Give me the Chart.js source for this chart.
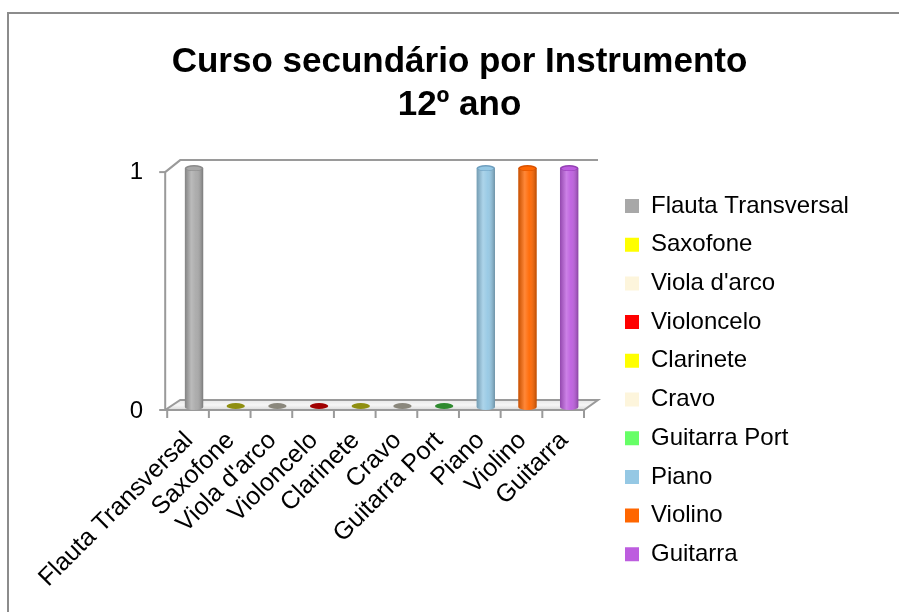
<!DOCTYPE html>
<html>
<head>
<meta charset="utf-8">
<script src="https://cdn.jsdelivr.net/npm/chart.js@4/dist/chart.umd.min.js"></script>
<style>
  html, body { margin: 0; padding: 0; background: #ffffff; overflow: hidden; }
  #frame { position: absolute; left: 7px; top: 12px; width: 1000px; height: 1000px;
           border-left: 2px solid #8c8c8c; border-top: 2px solid #8c8c8c; }
  #c { position: absolute; left: 0; top: 0; }
</style>
</head>
<body>
<div id="frame"></div>
<canvas id="c" width="899" height="612"></canvas>
<script>
// ---- data ----
const categories = ['Flauta Transversal', 'Saxofone', "Viola d'arco", 'Violoncelo', 'Clarinete',
                    'Cravo', 'Guitarra Port', 'Piano', 'Violino', 'Guitarra'];
const values = [1, 0, 0, 0, 0, 0, 0, 1, 1, 1];
const yTicks = [0, 1];
const titleLines = ['Curso secundário por Instrumento', '12º ano'];

// ---- styles ----
const fillColors = ['#a8a8a8', '#ffff00', '#fdf5dc', '#ff0000', '#ffff00',
                    '#fdf5dc', '#66ff66', '#95c8e4', '#ff6600', '#bd5ddf'];
const edgeColors = ['#8a8a8a', '#8f8f10', '#8a877c', '#a00000', '#8f8f10',
                    '#8a877c', '#2f8a2f', '#6f9fbf', '#d95200', '#9440b4'];
const FONT = "'Liberation Sans', Arial, Helvetica, sans-serif";

const framePlugin = {
  id: 'frame3d',
  beforeDatasetsDraw(chart) {
    const ctx = chart.ctx, xs = chart.scales.x, ys = chart.scales.y;
    const L = xs.left, R = xs.right;
    const T = ys.getPixelForValue(yTicks[yTicks.length - 1]);
    const B = ys.getPixelForValue(yTicks[0]);
    ctx.save();
    // floor
    const g = ctx.createLinearGradient(0, B - 7, 0, B + 3);
    g.addColorStop(0, '#e6e6e6');
    g.addColorStop(0.5, '#f6f6f6');
    g.addColorStop(1, '#d9d9d9');
    ctx.beginPath();
    ctx.moveTo(L - 8, B + 3);
    ctx.lineTo(R - 6, B + 3);
    ctx.lineTo(R + 8, B - 7);
    ctx.lineTo(L + 7, B - 7);
    ctx.closePath();
    ctx.fillStyle = g;
    ctx.fill();
    ctx.strokeStyle = '#9a9a9a';
    ctx.lineWidth = 2;
    ctx.stroke();
    // wall lines
    ctx.beginPath();
    ctx.moveTo(L - 8, B + 3);
    ctx.lineTo(L - 8, T + 4);
    ctx.lineTo(L + 7, T - 8);
    ctx.lineTo(R + 8, T - 8);
    ctx.stroke();
    // y tick marks
    yTicks.forEach(v => {
      const p = ys.getPixelForValue(v);
      ctx.beginPath();
      ctx.moveTo(L - 14, p + (v ? 4 : 3));
      ctx.lineTo(L - 8, p + (v ? 4 : 3));
      ctx.stroke();
    });
    // x tick marks at category boundaries
    const half = (R - L) / categories.length / 2;
    for (let i = 0; i <= categories.length; i++) {
      const px = (i < categories.length ? xs.getPixelForValue(i) - half : xs.getPixelForValue(i - 1) + half) - 6;
      ctx.beginPath();
      ctx.moveTo(px, B + 3);
      ctx.lineTo(px, B + 11);
      ctx.stroke();
    }
    ctx.restore();
  },
  afterDatasetsDraw(chart) {
    const ctx = chart.ctx;
    const meta = chart.getDatasetMeta(0);
    ctx.save();
    meta.data.forEach((el, i) => {
      const w = el.width, x = el.x;
      if (values[i] === 0) {
        ctx.beginPath();
        ctx.ellipse(x, el.base - 1, w / 2, 3, 0, 0, Math.PI * 2);
        ctx.fillStyle = edgeColors[i];
        ctx.fill();
        return;
      }
      // bottom round
      ctx.beginPath();
      ctx.ellipse(x, el.base, w / 2, 3, 0, 0, Math.PI);
      ctx.fillStyle = fillColors[i];
      ctx.fill();
      // shading across body (incl. bottom)
      const g = ctx.createLinearGradient(x - w / 2, 0, x + w / 2, 0);
      g.addColorStop(0, 'rgba(0,0,0,0.22)');
      g.addColorStop(0.35, 'rgba(255,255,255,0.22)');
      g.addColorStop(0.6, 'rgba(255,255,255,0.05)');
      g.addColorStop(1, 'rgba(0,0,0,0.28)');
      ctx.beginPath();
      ctx.moveTo(x - w / 2, el.y);
      ctx.lineTo(x - w / 2, el.base);
      ctx.ellipse(x, el.base, w / 2, 3, 0, Math.PI, 0, true);
      ctx.lineTo(x + w / 2, el.y);
      ctx.closePath();
      ctx.fillStyle = g;
      ctx.fill();
      // top cap
      ctx.beginPath();
      ctx.ellipse(x, el.y, w / 2, 3, 0, 0, Math.PI * 2);
      ctx.fillStyle = edgeColors[i];
      ctx.fill();
      ctx.beginPath();
      ctx.ellipse(x, el.y + 0.5, w / 2 - 1.5, 2, 0, 0, Math.PI * 2);
      ctx.fillStyle = fillColors[i];
      ctx.fill();
    });
    ctx.restore();
  }
};

const legendPlace = {
  id: 'legendPlace',
  afterInit(chart) {
    const lg = chart.legend;
    const orig = lg.fit;
    lg.fit = function () {
      this.maxHeight = 2000;
      orig.call(this);
      this.width = 309;
      this.height = 420;
    };
  },
  afterLayout(chart) {
    const lg = chart.legend;
    const pad = lg.options.labels.padding;
    lg.left = 625 - pad;
    lg.right = lg.left + 272;
    lg.width = 272;
    lg.top = 194 - pad;
    lg.bottom = 640;
    lg.height = lg.bottom - lg.top;
  }
};

new Chart(document.getElementById('c'), {
  type: 'bar',
  data: {
    labels: categories,
    datasets: [{
      data: values,
      backgroundColor: fillColors,
      borderWidth: 0,
      barPercentage: 0.44,
      categoryPercentage: 1
    }]
  },
  options: {
    responsive: false,
    animation: false,
    devicePixelRatio: 1,
    layout: { padding: { left: 20, right: 0, top: 12, bottom: 0 } },
    scales: {
      x: {
        grid: { display: false, drawTicks: false },
        border: { display: false },
        ticks: {
          autoSkip: false, maxRotation: 45, minRotation: 45,
          color: '#000', padding: 19, labelOffset: -5,
          font: { family: FONT, size: 25 }
        },
        afterFit(scale) { scale.height = 205; }
      },
      y: {
        min: 0, max: 1,
        grid: { display: false, drawTicks: false },
        border: { display: false },
        ticks: {
          stepSize: 1, color: '#000', padding: 30, labelOffset: 4,
          font: { family: FONT, size: 24 }
        },
        afterFit(scale) { scale.width = 153.2; }
      }
    },
    plugins: {
      title: {
        display: true,
        text: titleLines,
        color: '#000',
        font: { family: FONT, size: 35, weight: 'bold', lineHeight: 1.23 },
        padding: { top: 28.5, bottom: 41.5 }
      },
      legend: {
        position: 'right',
        align: 'start',
        labels: {
          color: '#000',
          font: { family: FONT, size: 24 },
          boxWidth: 14, boxHeight: 14, padding: 14.7,
          generateLabels(chart) {
            return categories.map((c, i) => ({
              text: c, fillStyle: fillColors[i], strokeStyle: fillColors[i],
              lineWidth: 0, hidden: false, index: i, fontColor: '#000'
            }));
          }
        }
      },
      tooltip: { enabled: false }
    }
  },
  plugins: [framePlugin, legendPlace]
});
</script>
</body>
</html>
